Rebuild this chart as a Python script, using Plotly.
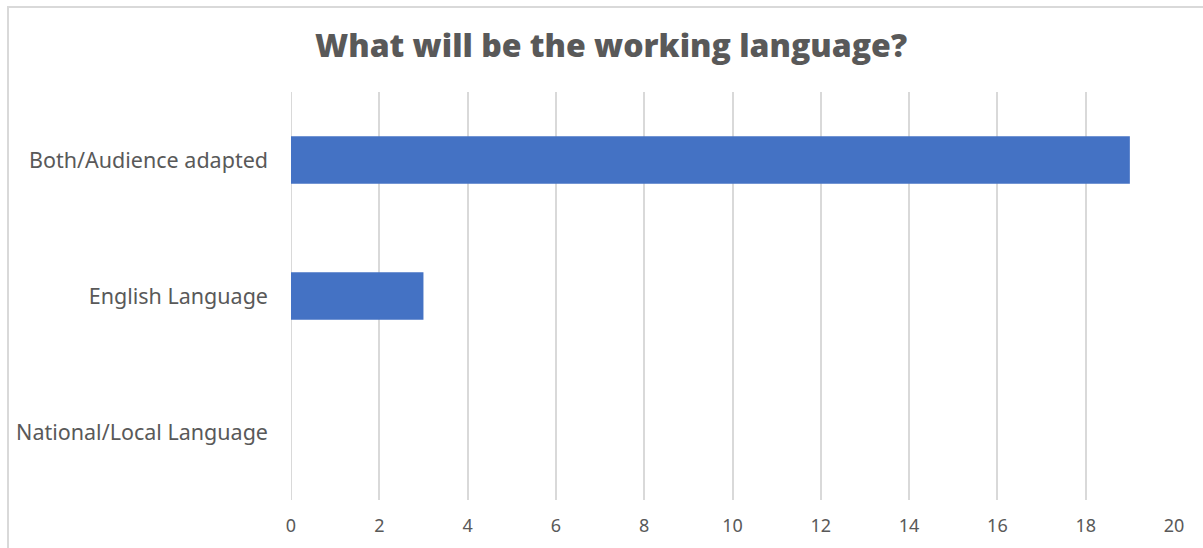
import plotly.graph_objects as go

# Survey responses: working language of the events
categories = ["Both/Audience adapted", "English Language", "National/Local Language"]
responses = [19, 3, 0]
x_ticks = list(range(0, 21, 2))

W, H = 1203, 548
ml, mr, mt, mb = 291, 29, 92, 48
pw, ph = W - ml - mr, H - mt - mb

fig = go.Figure(
    go.Bar(
        x=responses,
        y=categories,
        orientation="h",
        marker=dict(color="#4472C4", line=dict(width=0)),
    )
)

fig.update_layout(
    width=W,
    height=H,
    margin=dict(l=ml, r=mr, t=mt, b=mb),
    paper_bgcolor="white",
    plot_bgcolor="white",
    bargap=0.65,
    showlegend=False,
    title=dict(
        text="What will be the working language?",
        x=611 / W,
        xanchor="center",
        y=1 - 46 / H,
        yanchor="middle",
        font=dict(family="Open Sans", size=32, color="#595959", weight=800),
    ),
    font=dict(family="Noto Sans", color="#595959"),
)

fig.update_xaxes(
    range=[0, 20],
    tickvals=x_ticks,
    showgrid=True,
    gridcolor="#D9D9D9",
    gridwidth=2,
    zeroline=False,
    showline=False,
    ticks="",
    ticklabelstandoff=13,
    tickfont=dict(size=18, color="#595959"),
    fixedrange=True,
)

fig.update_yaxes(
    categoryorder="array",
    categoryarray=categories[::-1],
    showgrid=False,
    zeroline=False,
    showline=False,
    ticks="",
    ticklabelstandoff=22,
    tickfont=dict(size=21.5, color="#595959"),
    fixedrange=True,
)

# Zero gridline, drawn like the others
fig.add_shape(
    type="line", xref="x", yref="paper", x0=0, x1=0, y0=0, y1=1,
    line=dict(color="#D9D9D9", width=2), layer="below",
)

# Chart frame (extends past the right and bottom edges)
fig.add_shape(
    type="rect", xref="paper", yref="paper",
    x0=(8 - ml) / pw, x1=(W + 10 - ml) / pw,
    y0=-(mb + 10) / ph, y1=1 + (mt - 7) / ph,
    line=dict(color="#D9D9D9", width=2), fillcolor="rgba(0,0,0,0)",
)

fig.write_html("out.html", config={"displayModeBar": False})
